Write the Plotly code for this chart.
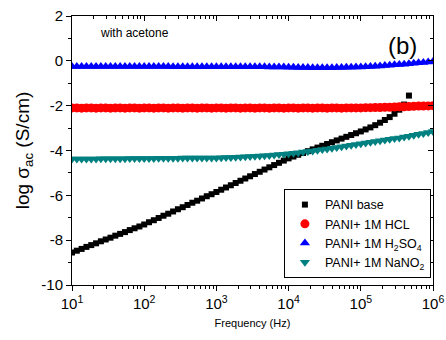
import plotly.graph_objects as go

# Frequency grid (Hz)
freq = [10, 11.66, 13.59, 15.85, 18.48, 21.54, 25.12, 29.29, 34.15, 39.81, 46.42, 54.12, 63.10, 73.56, 85.77,
        100, 116.6, 135.9, 158.5, 184.8, 215.4, 251.2, 292.9, 341.5, 398.1, 464.2, 541.2, 631.0, 735.6, 857.7,
        1000, 1166, 1359, 1585, 1848, 2154, 2512, 2929, 3415, 3981, 4642, 5412, 6310, 7356, 8577,
        10000, 11660, 13590, 15850, 18480, 21540, 25120, 29290, 34150, 39810, 46420, 54120, 63100, 73560, 85770,
        100000, 116600, 135900, 158500, 184800, 215400, 251200, 292900, 341500, 398100, 464200, 541200, 631000,
        735600, 857700, 1000000]

pani_base = [-8.55, -8.47, -8.39, -8.30, -8.22, -8.14, -8.05, -7.97, -7.89, -7.80, -7.72, -7.64, -7.55, -7.47, -7.39,
             -7.30, -7.20, -7.11, -7.01, -6.91, -6.82, -6.72, -6.62, -6.53, -6.43, -6.33, -6.24, -6.14, -6.04, -5.95,
             -5.85, -5.75, -5.65, -5.55, -5.45, -5.35, -5.25, -5.15, -5.05, -4.95, -4.85, -4.75, -4.65, -4.55, -4.45,
             -4.35, -4.27, -4.19, -4.11, -4.03, -3.95, -3.87, -3.79, -3.71, -3.63, -3.55, -3.47, -3.39, -3.31, -3.23,
             -3.15, -3.06, -2.97, -2.87, -2.76, -2.64, -2.51, -2.36, -2.18, -1.95, -1.55]

pani_hcl = [-2.10, -2.10, -2.11, -2.10, -2.10, -2.11, -2.10, -2.10, -2.11, -2.10, -2.10, -2.11, -2.10, -2.10, -2.11,
            -2.10, -2.10, -2.11, -2.10, -2.10, -2.11, -2.10, -2.10, -2.11, -2.10, -2.10, -2.11, -2.10, -2.10, -2.11,
            -2.10, -2.10, -2.11, -2.10, -2.10, -2.11, -2.10, -2.10, -2.11, -2.10, -2.10, -2.11, -2.10, -2.10, -2.11,
            -2.10, -2.10, -2.11, -2.10, -2.10, -2.11, -2.10, -2.10, -2.11, -2.10, -2.10, -2.11, -2.10, -2.10, -2.10,
            -2.10, -2.09, -2.09, -2.08, -2.08, -2.07, -2.07, -2.06, -2.05, -2.05, -2.04, -2.03, -2.02, -2.02, -2.01,
            -2.00]

pani_h2so4 = [-0.25, -0.25, -0.25, -0.25, -0.25, -0.25, -0.25, -0.25, -0.25, -0.25, -0.25, -0.25, -0.25, -0.25, -0.25,
              -0.25, -0.25, -0.25, -0.25, -0.25, -0.25, -0.26, -0.26, -0.26, -0.26, -0.26, -0.26, -0.26, -0.26, -0.26,
              -0.26, -0.26, -0.26, -0.26, -0.26, -0.26, -0.26, -0.26, -0.26, -0.26, -0.26, -0.27, -0.27, -0.28, -0.28,
              -0.29, -0.29, -0.30, -0.30, -0.30, -0.31, -0.31, -0.31, -0.31, -0.31, -0.30, -0.30, -0.29, -0.29, -0.28,
              -0.27, -0.26, -0.25, -0.24, -0.23, -0.21, -0.20, -0.18, -0.16, -0.15, -0.13, -0.11, -0.09, -0.07, -0.05,
              -0.03]

pani_nano2 = [-4.38, -4.38, -4.38, -4.38, -4.38, -4.38, -4.37, -4.37, -4.37, -4.37, -4.37, -4.37, -4.36, -4.36, -4.36,
              -4.36, -4.36, -4.36, -4.35, -4.35, -4.35, -4.35, -4.35, -4.34, -4.34, -4.34, -4.34, -4.34, -4.33, -4.33,
              -4.33, -4.32, -4.31, -4.31, -4.30, -4.29, -4.28, -4.27, -4.26, -4.25, -4.23, -4.22, -4.20, -4.18, -4.17,
              -4.15, -4.12, -4.10, -4.07, -4.04, -4.02, -3.99, -3.96, -3.93, -3.90, -3.87, -3.83, -3.80, -3.77, -3.73,
              -3.70, -3.67, -3.63, -3.60, -3.57, -3.53, -3.50, -3.47, -3.44, -3.40, -3.36, -3.32, -3.28, -3.24, -3.20,
              -3.15]

x_tickvals = [10, 100, 1000, 10000, 100000, 1000000]
x_ticktext = ["10<sup>1</sup>", "10<sup>2</sup>", "10<sup>3</sup>", "10<sup>4</sup>", "10<sup>5</sup>", "10<sup>6</sup>"]
x_minor = [m * d for d in [10, 100, 1000, 10000, 100000] for m in range(2, 10)]
y_tickvals = [-10, -8, -6, -4, -2, 0, 2]
y_ticktext = ["-10", "-8", "-6", "-4", "-2", "0", "2"]
y_minor = [-9, -7, -5, -3, -1, 1]

FONT = "Liberation Sans, Arial, sans-serif"

fig = go.Figure()
fig.add_trace(go.Scatter(x=freq[:len(pani_base)], y=pani_base, mode="markers", name="PANI base",
                         marker=dict(symbol="square", size=6, color="#000000")))
fig.add_trace(go.Scatter(x=freq, y=pani_hcl, mode="markers", name="PANI+ 1M HCL",
                         marker=dict(symbol="circle", size=9, color="#FF0000")))
fig.add_trace(go.Scatter(x=freq, y=pani_h2so4, mode="markers", name="PANI+ 1M H<sub>2</sub>SO<sub>4</sub>",
                         marker=dict(symbol="triangle-up", size=9, color="#0000FF")))
fig.add_trace(go.Scatter(x=freq, y=pani_nano2, mode="markers", name="PANI+ 1M NaNO<sub>2</sub>",
                         marker=dict(symbol="triangle-down", size=9, color="#008080")))
# invisible trace to anchor the mirror axes
fig.add_trace(go.Scatter(x=[10], y=[-10], xaxis="x2", yaxis="y2", mode="markers",
                         marker=dict(opacity=0), showlegend=False, hoverinfo="skip"))

fig.update_layout(
    width=446, height=340,
    margin=dict(l=72, r=13, t=16, b=55, autoexpand=False),
    paper_bgcolor="white", plot_bgcolor="white",
    font=dict(family=FONT, color="black"),
    showlegend=True,
    legend=dict(x=0.587, y=0.357, xanchor="left", yanchor="top",
                bgcolor="white", bordercolor="black", borderwidth=1,
                font=dict(size=12.5, family=FONT), tracegroupgap=0, itemsizing="trace", itemwidth=30),
    xaxis=dict(type="log", range=[1, 6], showline=True, linecolor="black", linewidth=1, automargin=False,
               ticks="outside", ticklen=5, tickcolor="black", tickvals=x_tickvals, ticktext=x_ticktext,
               minor=dict(ticks="outside", ticklen=3, tickcolor="black", tickvals=x_minor),
               showgrid=False, zeroline=False, tickfont=dict(size=15),
               title=dict(text="Frequency (Hz)", font=dict(size=11), standoff=8)),
    yaxis=dict(range=[-10, 2], showline=True, linecolor="black", linewidth=1, automargin=False,
               ticks="outside", ticklen=5, tickcolor="black", tickvals=y_tickvals, ticktext=y_ticktext,
               minor=dict(ticks="outside", ticklen=3, tickcolor="black", tickvals=y_minor),
               showgrid=False, zeroline=False, tickfont=dict(size=15),
               title=dict(text="log σ<sub>ac</sub> (S/cm)", font=dict(size=19), standoff=6)),
    xaxis2=dict(type="log", range=[1, 6], overlaying="x", side="top", anchor="y2", showline=True,
                linecolor="black", linewidth=1, ticks="inside", ticklen=5, tickcolor="black", automargin=False,
                tickvals=x_tickvals, showticklabels=False,
                minor=dict(ticks="inside", ticklen=3, tickcolor="black", tickvals=x_minor),
                showgrid=False, zeroline=False),
    yaxis2=dict(range=[-10, 2], overlaying="y", side="right", anchor="x2", showline=True,
                linecolor="black", linewidth=1, ticks="inside", ticklen=5, tickcolor="black", automargin=False,
                tickvals=y_tickvals, showticklabels=False,
                minor=dict(ticks="inside", ticklen=3, tickcolor="black", tickvals=y_minor),
                showgrid=False, zeroline=False),
    annotations=[
        dict(text="with acetone", x=0.072, y=0.935, xref="paper", yref="paper", xanchor="left",
             yanchor="middle", showarrow=False, font=dict(size=12, family=FONT)),
        dict(text="(b)", x=0.915, y=0.89, xref="paper", yref="paper", xanchor="center",
             yanchor="middle", showarrow=False, font=dict(size=24, family=FONT)),
    ],
)

fig.write_html("out.html")
